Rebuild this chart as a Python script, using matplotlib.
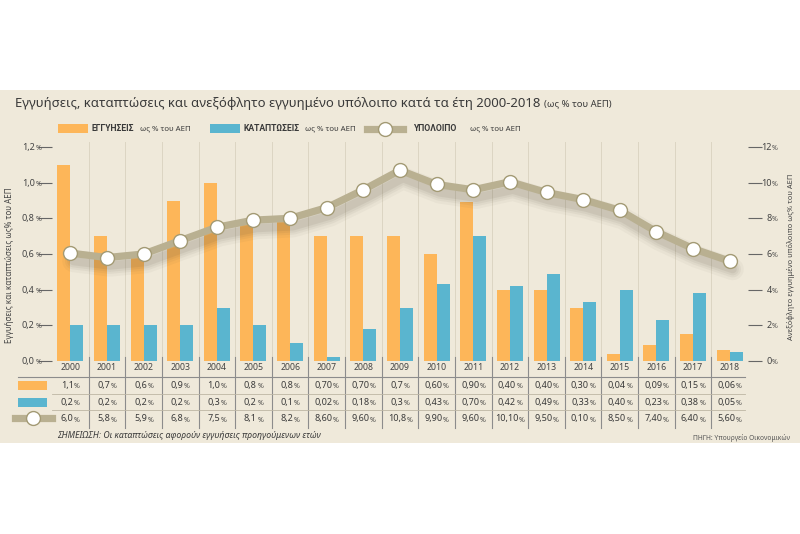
import matplotlib
matplotlib.use("Agg")
import matplotlib.pyplot as plt
import matplotlib.transforms as mtransforms
from matplotlib.patches import Rectangle
from matplotlib.lines import Line2D
from matplotlib.font_manager import FontProperties
import numpy as np

plt.rcParams['font.family'] = ['Noto Sans', 'DejaVu Sans']
BOLD_FAMILY = ['Roboto', 'DejaVu Sans']

# data
years = [str(y) for y in range(2000, 2019)]
guarantees = [1.1, 0.7, 0.6, 0.9, 1.0, 0.77, 0.78, 0.7, 0.7, 0.7, 0.6, 0.89, 0.4, 0.4, 0.3, 0.04, 0.09, 0.15, 0.06]
defaults = [0.2, 0.2, 0.2, 0.2, 0.3, 0.2, 0.1, 0.02, 0.18, 0.3, 0.43, 0.7, 0.42, 0.49, 0.33, 0.4, 0.23, 0.38, 0.05]
balance = [6.05, 5.8, 6.0, 6.75, 7.5, 7.9, 8.0, 8.6, 9.6, 10.7, 9.9, 9.6, 10.05, 9.45, 9.05, 8.45, 7.25, 6.3, 5.6]

# table texts as printed
guar_labels = ["1,1", "0,7", "0,6", "0,9", "1,0", "0,8", "0,8", "0,70", "0,70", "0,7", "0,60", "0,90", "0,40", "0,40", "0,30", "0,04", "0,09", "0,15", "0,06"]
def_labels = ["0,2", "0,2", "0,2", "0,2", "0,3", "0,2", "0,1", "0,02", "0,18", "0,3", "0,43", "0,70", "0,42", "0,49", "0,33", "0,40", "0,23", "0,38", "0,05"]
bal_labels = ["6,0", "5,8", "5,9", "6,8", "7,5", "8,1", "8,2", "8,60", "9,60", "10,8", "9,90", "9,60", "10,10", "9,50", "0,10", "8,50", "7,40", "6,40", "5,60"]

left_ticks = [0.0, 0.2, 0.4, 0.6, 0.8, 1.0, 1.2]
left_tick_labels = ["0,0", "0,2", "0,4", "0,6", "0,8", "1,0", "1,2"]
right_ticks = [0, 2, 4, 6, 8, 10, 12]
right_tick_labels = ["0", "2", "4", "6", "8", "10", "12"]

ORANGE = "#fdb659"
BLUE = "#5ab5cf"
KHAKI = "#b9b091"
KHAKI_DARK = "#a39a74"
BG = "#efe9da"
TXT = "#3a3a3a"
W, H = 800, 534


def fx(px):
    return px / W


def fy(py):
    return 1 - py / H


fig = plt.figure(figsize=(8, 5.34), dpi=100)
fig.add_artist(Rectangle((0, fy(443)), 1, fy(90) - fy(443), transform=fig.transFigure,
                         facecolor=BG, edgecolor='none', zorder=-5))

ax = fig.add_axes([fx(52), fy(361), fx(748) - fx(52), fy(147) - fy(361)])
ax.set_facecolor('none')
x = np.arange(len(years))
bw = 0.355
ax.bar(x - bw / 2, guarantees, bw, color=ORANGE, zorder=2)
ax.bar(x + bw / 2, defaults, bw, color=BLUE, zorder=2)
ax.set_xlim(-0.5, len(years) - 0.5)
ax.set_ylim(0, 1.2)
ax.set_xticks([])
ax.set_yticks(left_ticks)
ax.tick_params(axis='y', length=10, width=0.8, color='#666666', labelleft=False)
for s in ax.spines.values():
    s.set_visible(False)

ax2 = ax.twinx()
ax2.set_ylim(0, 12)
ax2.set_yticks(right_ticks)
ax2.tick_params(axis='y', length=10, width=0.8, color='#666666', labelright=False)
for s in ax2.spines.values():
    s.set_visible(False)

# soft shadow under the line
for lw, a in [(16, 0.04), (12, 0.05), (9, 0.06), (6, 0.08)]:
    sh = mtransforms.ScaledTranslation(0.03, -0.08, fig.dpi_scale_trans)
    ax2.plot(x, balance, color='#4a4232', lw=lw, alpha=a, solid_capstyle='round',
             solid_joinstyle='round', transform=ax2.transData + sh, zorder=3)
ax2.plot(x, balance, color=KHAKI, lw=5.2, solid_joinstyle='round', zorder=4,
         marker='o', ms=10, mfc='white', mec=KHAKI_DARK, mew=1.0)

renderer = fig.canvas.get_renderer()


def text_w(s, size, weight='normal'):
    fp = FontProperties(family=['Noto Sans', 'DejaVu Sans'], size=size, weight=weight)
    return renderer.get_text_width_height_descent(s, fp, ismath=False)[0]


def pct(num, xy, coords, align, dx=0, dy=0, size=6.5, psize=5, color=TXT):
    wn = text_w(num, size)
    wp = text_w("%", psize)
    total = wn + 0.5 + wp
    if align == 'center':
        left = dx - total / 2
    elif align == 'right':
        left = dx - total
    else:
        left = dx
    ax.annotate(num, xy=xy, xycoords=coords, xytext=(left, dy), textcoords='offset pixels',
                ha='left', va='baseline', fontsize=size, color=color, annotation_clip=False)
    ax.annotate("%", xy=xy, xycoords=coords, xytext=(left + wn + 0.5, dy), textcoords='offset pixels',
                ha='left', va='baseline', fontsize=psize, color=color, annotation_clip=False)


# axis tick labels
for v, lab in zip(left_ticks, left_tick_labels):
    pct(lab, (0, v), ('axes fraction', 'data'), 'right', dx=-11, dy=-3, color='#444444')
for v, lab in zip(right_ticks, right_tick_labels):
    pct(lab, (1, v / 12), 'axes fraction', 'right', dx=30, dy=-3, color='#444444')

fig.text(fx(10), fy(265), "Εγγυήσεις και καταπτώσεις ως% του ΑΕΠ", rotation=90,
         ha='center', va='center', fontsize=5.8, color='#444444')
fig.text(fx(791), fy(257), "Ανεξόφλητο εγγυημένο υπόλοιπο ως% του ΑΕΠ", rotation=90,
         ha='center', va='center', fontsize=5.4, color='#444444')

# separators and table
trans = mtransforms.blended_transform_factory(ax.transData, fig.transFigure)
for i in range(len(years) - 1):
    ax.plot([i + 0.5, i + 0.5], [fy(142), fy(357)], transform=trans, color='#dcd5c3',
            lw=0.7, clip_on=False, zorder=1)
    ax.plot([i + 0.5, i + 0.5], [fy(357), fy(428)], transform=trans, color='#8c8c8c',
            lw=0.8, clip_on=False, zorder=1)
fig.add_artist(Line2D([fx(18), fx(745)], [fy(377), fy(377)], color='#8c8c8c', lw=0.8))
for yy in [393.5, 410]:
    fig.add_artist(Line2D([fx(52), fx(745)], [fy(yy), fy(yy)], color='#bdb6a4', lw=0.6))

for i, yr in enumerate(years):
    ax.text(i, fy(368), yr, transform=trans, ha='center', va='center', fontsize=6.3, color='#444444')
    pct(guar_labels[i], (i, fy(388)), trans, 'center')
    pct(def_labels[i], (i, fy(405)), trans, 'center')
    pct(bal_labels[i], (i, fy(421.5)), trans, 'center')

# row markers in the table
fig.add_artist(Rectangle((fx(18), fy(390)), fx(47) - fx(18), fy(381) - fy(390),
                         transform=fig.transFigure, facecolor=ORANGE, edgecolor='none'))
fig.add_artist(Rectangle((fx(18), fy(407)), fx(47) - fx(18), fy(398) - fy(407),
                         transform=fig.transFigure, facecolor=BLUE, edgecolor='none'))
fig.add_artist(Line2D([fx(15), fx(52)], [fy(418), fy(418)], color=KHAKI, lw=5.2))
fig.add_artist(Line2D([fx(33)], [fy(418)], marker='o', ms=10, mfc='white', mec=KHAKI_DARK, mew=1.0))

# title and legend
fig.text(fx(15), fy(103), "Εγγυήσεις, καταπτώσεις και ανεξόφλητο εγγυημένο υπόλοιπο κατά τα έτη 2000-2018",
         ha='left', va='center', fontsize=9.45, color=TXT)
fig.text(fx(544), fy(104), "(ως % του ΑΕΠ)", ha='left', va='center', fontsize=6.8, color=TXT)

fig.add_artist(Rectangle((fx(58), fy(133)), fx(88) - fx(58), fy(124) - fy(133),
                         transform=fig.transFigure, facecolor=ORANGE, edgecolor='none'))
fig.text(fx(92), fy(128.5), "ΕΓΓΥΗΣΕΙΣ", ha='left', va='center', fontsize=6.2, weight='bold',
         family=BOLD_FAMILY, color=TXT)
fig.text(fx(140), fy(128.5), "ως % του ΑΕΠ", ha='left', va='center', fontsize=5.6, color=TXT)
fig.add_artist(Rectangle((fx(210), fy(133)), fx(240) - fx(210), fy(124) - fy(133),
                         transform=fig.transFigure, facecolor=BLUE, edgecolor='none'))
fig.text(fx(244), fy(128.5), "ΚΑΤΑΠΤΩΣΕΙΣ", ha='left', va='center', fontsize=6.2, weight='bold',
         family=BOLD_FAMILY, color=TXT)
fig.text(fx(305), fy(128.5), "ως % του ΑΕΠ", ha='left', va='center', fontsize=5.6, color=TXT)
fig.add_artist(Line2D([fx(367), fx(403)], [fy(128.5), fy(128.5)], color=KHAKI, lw=5.2))
fig.add_artist(Line2D([fx(385)], [fy(128.5)], marker='o', ms=10, mfc='white', mec=KHAKI_DARK, mew=1.0))
fig.text(fx(413), fy(128.5), "ΥΠΟΛΟΙΠΟ", ha='left', va='center', fontsize=6.2, weight='bold',
         family=BOLD_FAMILY, color=TXT)
fig.text(fx(470), fy(128.5), "ως % του ΑΕΠ", ha='left', va='center', fontsize=5.6, color=TXT)

# footer
fig.text(fx(57), fy(436), "ΣΗΜΕΙΩΣΗ: Οι καταπτώσεις αφορούν εγγυήσεις προηγούμενων ετών",
         ha='left', va='center', fontsize=6.3, style='italic', color=TXT)
fig.text(fx(790), fy(438), "ΠΗΓΗ: Υπουργείο Οικονομικών", ha='right', va='center', fontsize=4.8, color='#555555')

fig.savefig("out.png", dpi=100)
